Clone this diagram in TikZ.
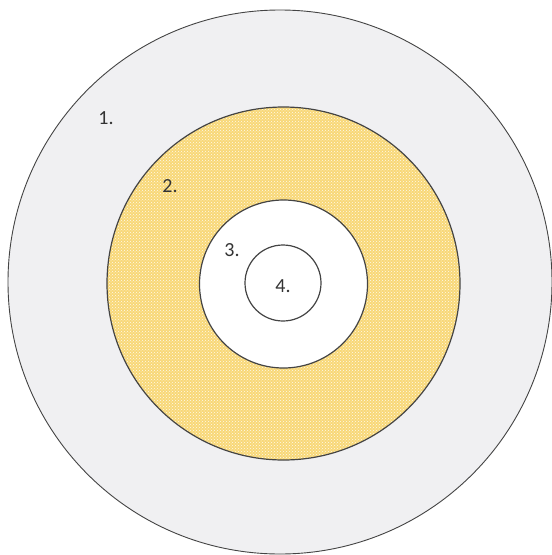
\documentclass[tikz,border=0pt]{standalone}
\usepackage{fontspec}
\setmainfont{Carlito}
\usetikzlibrary{patterns}
\definecolor{ringgray}{HTML}{F0F0F2}
\definecolor{ringyellow}{HTML}{F8D878}
\definecolor{edgegray}{HTML}{444444}
\begin{document}
\begin{tikzpicture}[x=1pt,y=-1pt,
  ring/.style={draw=edgegray,line width=1.2pt},
  lbl/.style={font=\fontsize{20}{20}\selectfont,text=black!80,inner sep=0pt}]
\useasboundingbox (0,0) rectangle (552,555);
\fill[white] (0,0) rectangle (552,555);
\draw[ring,line width=0.9pt,fill=ringgray] (280,282) circle (272);
\fill[ringyellow] (283.5,283.5) circle (176.5);
\fill[pattern=crosshatch dots,pattern color=white!85!ringyellow] (283.5,283.5) circle (176.5);
\draw[ring] (283.5,283.5) circle (176.5);
\draw[ring,fill=white] (283.5,284) circle (84);
\draw[ring] (283,283) circle (38);
\node[lbl] (l1) at (106,118) {1.};
\node[lbl] (l2) at (170,186) {2.};
\node[lbl] (l3) at (232,250) {3.};
\node[lbl] (l4) at (283,286) {4.};
\end{tikzpicture}
\end{document}
